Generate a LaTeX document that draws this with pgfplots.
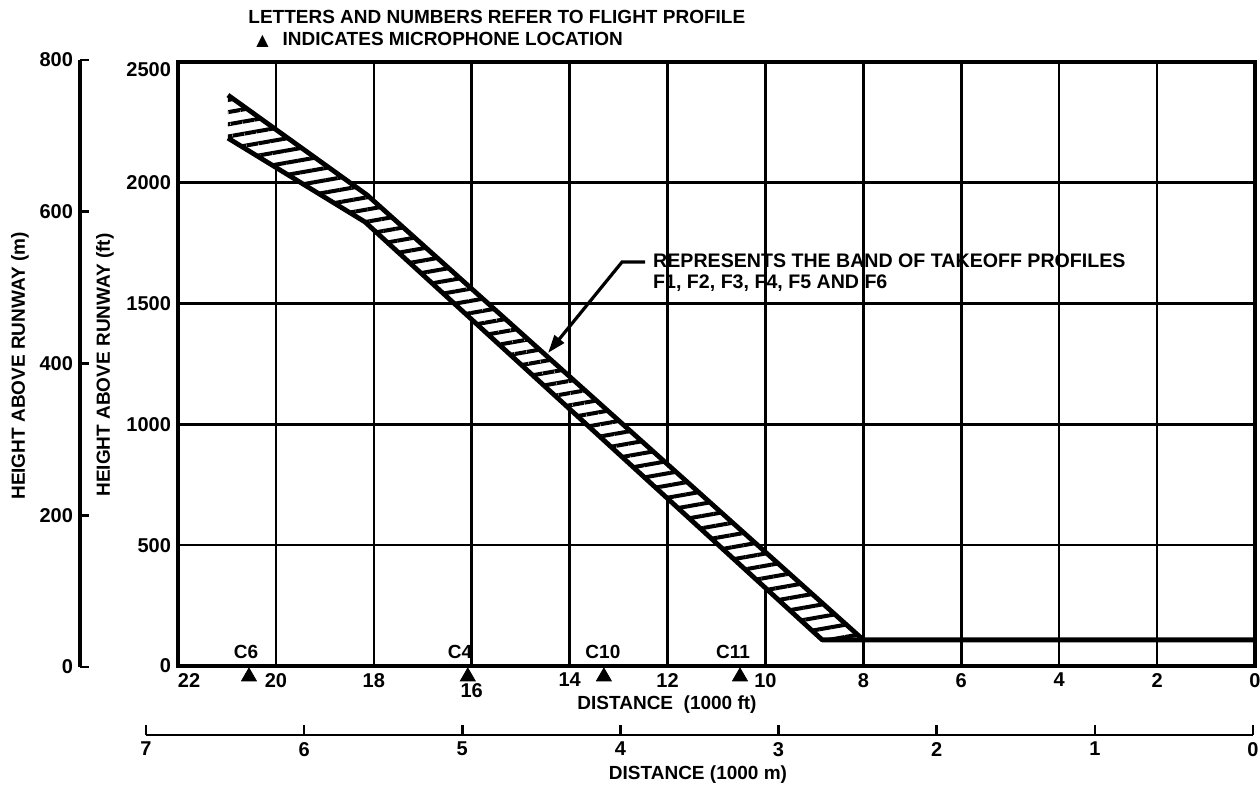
\documentclass[border=0pt]{standalone}
\usepackage{fontspec}
\setmainfont{Liberation Sans}
\newfontfamily\symfont{DejaVu Sans}
\usepackage{pgfplots}
\pgfplotsset{compat=1.18}
\usetikzlibrary{patterns.meta, arrows.meta}

\begin{document}
\begin{tikzpicture}[font=\fontsize{9.5}{10.5}\selectfont\bfseries]

% ---------------- main axis (ft) ----------------
\begin{axis}[
  at={(89pt,60pt)}, anchor=south west, scale only axis,
  width=538.5pt, height=302pt,
  xmin=0, xmax=22, ymin=0, ymax=2500, x dir=reverse,
  clip=false,
  xtick={0,2,4,6,8,10,12,14,18,20,22},
  xticklabels={0,2,4,6,8,10,12,14,18,20,\rlap{22}},
  extra x ticks={16}, extra x tick labels={16},
  extra x tick style={grid=major, tick label style={yshift=-5pt}},
  ytick={0,500,1000,1500,2000},
  yticklabels={0,500,1000,1500,2000},
  extra y ticks={2500}, extra y tick labels={2500},
  extra y tick style={grid=major, tick label style={yshift=-4pt}},
  grid=major,
  major grid style={line width=1.3pt, black},
  major tick length=0pt,
  axis line style={line width=2pt},
  tick label style={font=\fontsize{10}{12}\selectfont\bfseries},
]
% band (white fill + hatching)
\addplot[fill=white, draw=none, forget plot]
  coordinates {(20.98,2363) (18.14,1950) (8.0,108) (8.84,108) (18.18,1838) (20.98,2185)} -- cycle;
\addplot[draw=none, forget plot, pattern={Lines[angle=10,distance=6pt,line width=2pt]}, pattern color=black]
  coordinates {(20.98,2363) (18.14,1950) (8.0,108) (8.84,108) (18.18,1838) (20.98,2185)} -- cycle;
% upper and lower boundaries
\addplot[line width=2.4pt, black, line join=round]
  coordinates {(20.98,2363) (18.14,1950) (8.0,108)};
\addplot[line width=2.4pt, black, line join=round]
  coordinates {(20.98,2185) (18.18,1838) (8.84,108) (0,108)};
% microphone locations
\addplot[only marks, mark=triangle*, mark size=4.3pt, black]
  coordinates {(20.55,-44) (16.08,-44) (13.30,-44) (10.52,-44)};

\node[anchor=south] at (axis cs:20.61,0) {C6};
\node[anchor=south] at (axis cs:16.24,0) {C4};
\node[anchor=south] at (axis cs:13.32,0) {C10};
\node[anchor=south] at (axis cs:10.66,0) {C11};

% annotation
\draw[line width=1.6pt, -{Triangle[length=9pt,width=6pt]}]
  (axis cs:12.46,1672) -- (axis cs:12.93,1672) -- (axis cs:14.44,1296);
\node[anchor=west, align=left, inner sep=0pt, font=\fontsize{9.8}{10.5}\selectfont\bfseries] at (axis cs:12.30,1628)
  {REPRESENTS THE BAND OF TAKEOFF PROFILES\\F1, F2, F3, F4, F5 AND F6};
\end{axis}

% ---------------- left axis (m) ----------------
\begin{axis}[
  at={(40pt,59.5pt)}, anchor=south west, scale only axis,
  width=1pt, height=303.5pt,
  ymin=0, ymax=800, xmin=0, xmax=1,
  axis y line*=left, hide x axis,
  ytick={0,200,400,600,800},
  yticklabels={0,200,400,600,800},
  tick align=inside, major tick length=4.5pt,
  y axis line style={-, line width=1.8pt},
  tick style={line width=1.3pt, black},
  tick label style={font=\fontsize{10}{12}\selectfont\bfseries},
]
\end{axis}

% ---------------- bottom axis (m) ----------------
\begin{axis}[
  at={(73pt,25.5pt)}, anchor=south west, scale only axis,
  width=553.5pt, height=1pt,
  xmin=0, xmax=7, ymin=0, ymax=1, x dir=reverse,
  axis x line*=bottom, hide y axis,
  xtick={0,1,2,3,4,5,6,7},
  xticklabels={0,1,2,3,4,5,6,7},
  tick align=inside, major tick length=5pt,
  x axis line style={-, line width=1.3pt},
  tick style={line width=1.3pt, black},
  tick label style={font=\fontsize{10}{12}\selectfont\bfseries},
]
\end{axis}

% ---------------- texts ----------------
\node[anchor=west, inner sep=0pt] at (124pt,384.5pt) {LETTERS AND NUMBERS REFER TO FLIGHT PROFILE};
\node[anchor=west, inner sep=0pt] at (128pt,373pt) {{\symfont\fontsize{8}{9}\selectfont ▲}\hspace{7pt}INDICATES MICROPHONE LOCATION};
\node[inner sep=0pt] at (333.5pt,40.5pt) {DISTANCE \ (1000 ft)};
\node[inner sep=0pt] at (349pt,5.5pt) {DISTANCE (1000 m)};
\node[rotate=90, inner sep=0pt] at (52.5pt,210.5pt) {HEIGHT ABOVE RUNWAY (ft)};
\node[rotate=90, inner sep=0pt] at (10pt,210pt) {HEIGHT ABOVE RUNWAY (m)};

\pgfresetboundingbox
\path[use as bounding box] (0,0) rectangle (630pt,393pt);
\end{tikzpicture}
\end{document}
